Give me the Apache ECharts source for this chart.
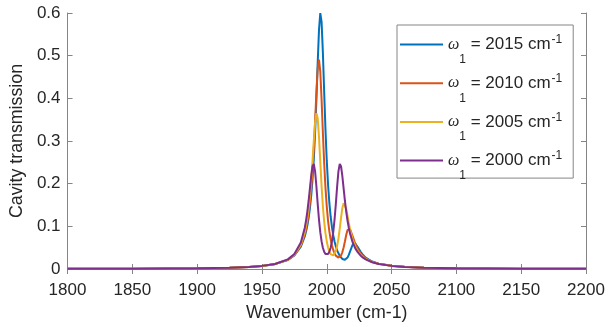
<!DOCTYPE html>
<html>
<head>
<meta charset="utf-8">
<script src="https://cdn.jsdelivr.net/npm/echarts@6/dist/echarts.min.js"></script>
<style>
	html, body { margin: 0; padding: 0; background: #fff; }
	#chart { width: 608px; height: 327px; }
</style>
</head>
<body>
<div id="chart"></div>
<script>
// wavenumber samples (cm-1), dense around the polariton peaks
const wavenumber = [1800, 1850, 1900, 1925, 1940, 1950, 1960, 1970, 1975, 1980,
	1983, 1984, 1985, 1986, 1987, 1988, 1989, 1990, 1991, 1992, 1993, 1994, 1995, 1996, 1997, 1998, 1999, 2000,
	2001, 2002, 2003, 2004, 2005, 2006, 2007, 2008, 2009, 2010, 2011, 2012, 2013, 2014, 2015, 2016, 2017, 2018,
	2020, 2022, 2024, 2026, 2028, 2030, 2035, 2040, 2050, 2060, 2075, 2100, 2150, 2200];

const omega1 = [2015, 2010, 2005, 2000];

const trans2015 = [0.0004, 0.00076, 0.00172, 0.0031, 0.0049, 0.0071, 0.0114, 0.0212, 0.0317, 0.0524,
	0.0763, 0.0878, 0.102, 0.12, 0.1427, 0.1719, 0.2094, 0.2582, 0.3206, 0.3974, 0.4831, 0.5603, 0.5996, 0.5792, 0.5075, 0.4148, 0.3267, 0.2539,
	0.1975, 0.1548, 0.1225, 0.098, 0.0791, 0.0645, 0.053, 0.0439, 0.0367, 0.031, 0.0267, 0.0236, 0.0219, 0.0216, 0.0231, 0.0268, 0.033, 0.0413,
	0.0574, 0.0596, 0.0507, 0.0407, 0.0327, 0.0267, 0.0176, 0.0126, 0.0075, 0.005, 0.0031, 0.0017, 0.00077, 0.00043];

const trans2010 = [0.0004, 0.00076, 0.00172, 0.0031, 0.0049, 0.0072, 0.0115, 0.0215, 0.0325, 0.0545,
	0.0806, 0.0934, 0.1093, 0.1295, 0.1551, 0.1878, 0.23, 0.283, 0.3464, 0.4141, 0.47, 0.4906, 0.4626, 0.3973, 0.3195, 0.2483, 0.1905, 0.1462,
	0.1129, 0.088, 0.0693, 0.0552, 0.0446, 0.0368, 0.0313, 0.028, 0.0267, 0.0278, 0.0318, 0.0391, 0.0503, 0.0646, 0.0797, 0.0913, 0.0959, 0.0932,
	0.0766, 0.0592, 0.046, 0.0366, 0.0298, 0.0247, 0.0168, 0.0122, 0.0074, 0.005, 0.0031, 0.0017, 0.00077, 0.00043];

const trans2005 = [0.0004, 0.00076, 0.00172, 0.0031, 0.0049, 0.0072, 0.0116, 0.022, 0.0335, 0.0576,
	0.0869, 0.1016, 0.1199, 0.1431, 0.1724, 0.2089, 0.2526, 0.3006, 0.3434, 0.3652, 0.3532, 0.3096, 0.2513, 0.1944, 0.1471, 0.1108, 0.0839, 0.0643,
	0.0504, 0.0408, 0.0347, 0.0317, 0.0317, 0.035, 0.0422, 0.0541, 0.0715, 0.0943, 0.12, 0.1424, 0.1543, 0.1529, 0.1411, 0.1248, 0.1079, 0.0928,
	0.069, 0.0528, 0.0416, 0.0337, 0.0279, 0.0235, 0.0162, 0.012, 0.0073, 0.005, 0.0031, 0.0017, 0.00077, 0.00043];

const trans2000 = [0.0004, 0.00076, 0.00173, 0.0031, 0.0049, 0.0073, 0.0118, 0.0226, 0.0351, 0.0622,
	0.0963, 0.1134, 0.1345, 0.16, 0.1891, 0.2185, 0.2408, 0.2462, 0.2287, 0.1935, 0.1526, 0.1155, 0.0862, 0.0647, 0.0499, 0.0404, 0.035, 0.0333,
	0.035, 0.0404, 0.0499, 0.0647, 0.0862, 0.1155, 0.1526, 0.1935, 0.2287, 0.2462, 0.2408, 0.2185, 0.1891, 0.16, 0.1345, 0.1134, 0.0963, 0.0825,
	0.0622, 0.0484, 0.0388, 0.0318, 0.0266, 0.0226, 0.0159, 0.0118, 0.0073, 0.0049, 0.0031, 0.0017, 0.00077, 0.00043];

const seriesValues = [trans2015, trans2010, trans2005, trans2000];
const colors = ["#0072BD", "#D95319", "#EDB120", "#7E2F8E"];

const FONT = "'Liberation Sans', Arial, Helvetica, sans-serif";
const AXIS_COLOR = "#858585";
const TEXT_COLOR = "#262626";

const chart = echarts.init(document.getElementById("chart"), null, { renderer: "canvas" });

const mirrorAxis = {
	axisLine: { show: true, lineStyle: { color: AXIS_COLOR, width: 1 } },
	axisTick: { show: true, inside: true, length: 5, lineStyle: { color: AXIS_COLOR } },
	axisLabel: { show: false },
	splitLine: { show: false },
};

chart.setOption({
	animation: false,
	color: colors,
	grid: { left: 65, right: 22, top: 13, bottom: 58, containLabel: false },
	legend: {
		orient: "vertical",
		left: 397,
		top: 25,
		padding: [9, 11, -3.5, 3],
		itemGap: 7.2,
		itemWidth: 43,
		itemHeight: 2,
		icon: "rect",
		borderColor: AXIS_COLOR,
		borderWidth: 1,
		backgroundColor: "#fff",
		data: omega1.map(String),
		formatter: name => `{w|ω}{sub|1}{t| = ${name} cm}{sup|-1}`,
		textStyle: {
			color: TEXT_COLOR,
			fontFamily: FONT,
			fontSize: 17,
			rich: {
				w: { fontFamily: "'Liberation Serif', serif", fontStyle: "italic", fontSize: 16, color: TEXT_COLOR },
				sub: { fontFamily: FONT, fontSize: 12, padding: [30, 0, 0, 0], color: TEXT_COLOR },
				t: { fontFamily: FONT, fontSize: 17, color: TEXT_COLOR },
				sup: { fontFamily: FONT, fontSize: 12, padding: [0, 0, 9, 1], color: TEXT_COLOR },
			},
		},
	},
	xAxis: [
		{
			type: "value",
			min: 1800,
			max: 2200,
			interval: 50,
			position: "bottom",
			name: "Wavenumber (cm-1)",
			nameLocation: "middle",
			nameGap: 35,
			nameTextStyle: { color: TEXT_COLOR, fontFamily: FONT, fontSize: 17.8 },
			axisLine: { show: true, onZero: false, lineStyle: { color: AXIS_COLOR, width: 1 } },
			axisTick: { show: true, inside: true, length: 5, lineStyle: { color: AXIS_COLOR } },
			axisLabel: { color: TEXT_COLOR, fontFamily: FONT, fontSize: 17, margin: 13, formatter: v => String(v) },
			splitLine: { show: false },
		},
		{ type: "value", min: 1800, max: 2200, interval: 50, position: "top", ...mirrorAxis },
	],
	yAxis: [
		{
			type: "value",
			min: 0,
			max: 0.6,
			interval: 0.1,
			position: "left",
			name: "Cavity transmission",
			nameLocation: "middle",
			nameRotate: 90,
			nameGap: 36,
			nameTextStyle: { color: TEXT_COLOR, fontFamily: FONT, fontSize: 17.8 },
			axisLine: { show: true, onZero: false, lineStyle: { color: AXIS_COLOR, width: 1 } },
			axisTick: { show: true, inside: true, length: 5, lineStyle: { color: AXIS_COLOR } },
			axisLabel: { color: TEXT_COLOR, fontFamily: FONT, fontSize: 17, margin: 7 },
			splitLine: { show: false },
		},
		{ type: "value", min: 0, max: 0.6, interval: 0.1, position: "right", ...mirrorAxis },
	],
	series: seriesValues.map((vals, i) => ({
		name: String(omega1[i]),
		type: "line",
		xAxisIndex: 0,
		yAxisIndex: 0,
		showSymbol: false,
		smooth: false,
		lineStyle: { width: 2, color: colors[i] },
		itemStyle: { color: colors[i] },
		data: wavenumber.map((x, j) => [x, vals[j]]),
	})),
});
</script>
</body>
</html>
